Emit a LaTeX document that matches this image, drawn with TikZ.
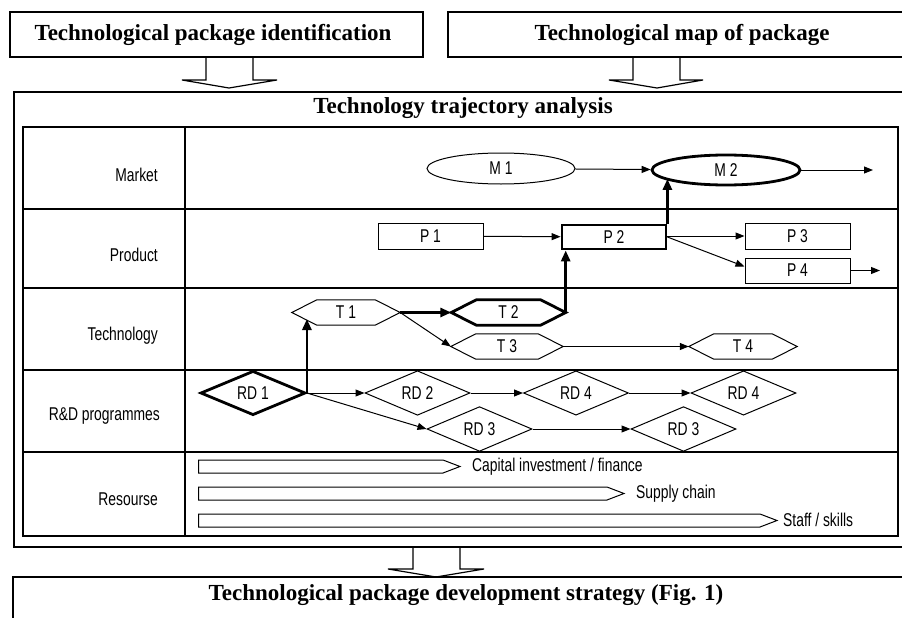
\documentclass[tikz,border=0pt]{standalone}
\usepackage{fontspec}
\setmainfont{Liberation Serif}
\newfontfamily\condsf[FakeStretch=0.75]{Liberation Sans}
\usetikzlibrary{shapes.geometric,arrows.meta,calc}
\begin{document}
\begin{tikzpicture}[x=1pt,y=-1pt,
  ttl/.style={font=\fontsize{23}{27}\selectfont\bfseries, inner sep=0},
  lbl/.style={font=\condsf\fontsize{18.5}{20}\selectfont, inner sep=0},
  box/.style={draw, line width=1.2pt},
  tab/.style={line width=2.4pt},
  lnthin/.style={line width=1pt},
  lnthick/.style={line width=2.8pt},
  ar/.style={lnthin, -{Triangle[length=9pt,width=7pt]}},
  tar/.style={lnthick, -{Triangle[length=11pt,width=9pt]}},
  ell/.style={ellipse, draw, lnthin, lbl, minimum width=148pt, minimum height=31pt, inner sep=0},
  rct/.style={rectangle, draw, lnthin, lbl, minimum width=105pt, minimum height=26pt, inner sep=0},
  hexa/.style={rectangle, lbl, minimum height=25pt, inner sep=0},
  dia/.style={diamond, draw, lnthin, lbl, minimum width=105pt, minimum height=35pt, inner sep=0},
  emph/.style={line width=2.8pt}
]
\useasboundingbox (0,0) rectangle (902,618);

% top boxes
\node[box, minimum width=413pt, minimum height=45pt, inner sep=0] (tl) at (216.5,34.5) {};
\node[ttl] (tltext) at (213,35) {Technological package identification};
\node[box, minimum width=468pt, minimum height=45pt, inner sep=0] (tr) at (682,34.5) {};
\node[ttl] (trtext) at (682,35) {Technological map of package};

% hollow arrows
\draw[box] (206,57) -- (206,80) -- (182,80) -- (229,88) -- (277,80) -- (253,80) -- (253,57);
\draw[box] (633,57) -- (633,80) -- (609,80) -- (657,88) -- (703,80) -- (680,80) -- (680,57);
\draw[box] (413,547) -- (413,569) -- (388,569) -- (436,577) -- (484,569) -- (460,569) -- (460,547);

% outer box
\node[box, minimum width=896pt, minimum height=455pt, inner sep=0] (outer) at (462,319.5) {};
\node[ttl] (otitle) at (463,108) {Technology trajectory analysis};

% inner table
\draw[tab] (23,127) rectangle (898,536);
\foreach \yy in {209,288,370,452} \draw[tab] (23,\yy) -- (898,\yy);
\draw[tab] (185,127) -- (185,536);

% row labels
\node[lbl, anchor=east] (lm) at (158,175) {Market};
\node[lbl, anchor=east] (lp) at (158,255) {Product};
\node[lbl, anchor=east] (lt) at (158,336) {Technology};
\node[lbl, anchor=east] (lr) at (160,416) {R\&D programmes};
\node[lbl, anchor=east] (ls) at (158,499) {Resourse};

% market
\node[ell] (m1) at (501,168.5) {M 1};
\node[ell, emph, minimum height=30pt] (m2) at (726,170) {M 2};
\coordinate (m2out) at (873,170);

% product
\node[rct] (p1) at (430.5,236) {P 1};
\node[rct, emph, minimum width=104pt, minimum height=24pt] (p2) at (614,237) {P 2};
\node[rct] (p3) at (797.5,236) {P 3};
\node[rct, minimum height=25pt] (p4) at (797.5,270.5) {P 4};
\coordinate (p4out) at (880,270.5);

% technology
\node[hexa, minimum width=108pt] (t1) at (346,312.5) {T 1};
\node[hexa, minimum width=114pt] (t2) at (508.5,312.5) {T 2};
\node[hexa, minimum width=112pt] (t3) at (507,346.5) {T 3};
\node[hexa, minimum width=108pt] (t4) at (743,346.5) {T 4};
\foreach \n/\w in {t1/lnthin,t2/emph,t3/lnthin,t4/lnthin}
  \draw[\w, line join=miter] (\n.west) -- ([xshift=25pt]\n.north west) -- ([xshift=-25pt]\n.north east)
     -- (\n.east) -- ([xshift=-25pt]\n.south east) -- ([xshift=25pt]\n.south west) -- cycle;

% R&D
\node[dia, emph] (rd1) at (253,393) {RD 1};
\node[dia] (rd2) at (417.5,393) {RD 2};
\node[dia] (rd4a) at (576,393) {RD 4};
\node[dia] (rd4b) at (743.5,393) {RD 4};
\node[dia, minimum height=34pt] (rd3a) at (479.5,429) {RD 3};
\node[dia, minimum height=34pt] (rd3b) at (683.5,429) {RD 3};

% resources
\node[lbl, anchor=west] (cap) at (472,467) {Capital investment / finance};
\node[lbl, anchor=west] (sup) at (636,494) {Supply chain};
\node[lbl, anchor=west] (stf) at (783,520) {Staff / skills};
\draw[lnthin] (198.5,460) -- (443,460) -- (460,466.5) -- (443,473) -- (198.5,473) -- cycle;
\draw[lnthin] (198.5,487) -- (607,487) -- (624,493.5) -- (607,500) -- (198.5,500) -- cycle;
\draw[lnthin] (198.5,514) -- (760,514) -- (777,520.5) -- (760,527) -- (198.5,527) -- cycle;

% connectors
\draw[ar] (m1) -- (m2);
\draw[ar] (m2) -- (m2out);
\draw[ar] (p1) -- (p2);
\draw[ar] (p2.east |- p3.west) -- (p3.west);
\draw[ar] (p2.east) -- ([yshift=4pt]p4.west);
\draw[ar] (p4) -- (p4out);
\draw[tar] (p2.north east) -- (p2.north east |- m2.188);
\draw[tar] (t1.east) -- (t2.west);
\draw[ar] (t1.east) -- (t3.west);
\draw[ar] (t3.east) -- (t4.west);
\draw[tar] (t2.east) -- (t2.east |- p2.south);
\draw[tar] (rd1.east) -- ($(rd1.east |- t1.center)+(0,6.5)$);
\draw[ar] (rd1.east) -- (rd2.west);
\draw[ar] (rd2.east) -- (rd4a.west);
\draw[ar] (rd4a.east) -- (rd4b.west);
\draw[ar] (rd1.east) -- (rd3a.west);
\draw[ar] (rd3a.east) -- (rd3b.west);

% bottom box
\node[box, minimum width=897pt, minimum height=63pt, inner sep=0] (bot) at (461.5,608.5) {};
\node[ttl] (bottext) at (466,595) {Technological package development strategy (Fig. 1)};
\end{tikzpicture}
\end{document}
